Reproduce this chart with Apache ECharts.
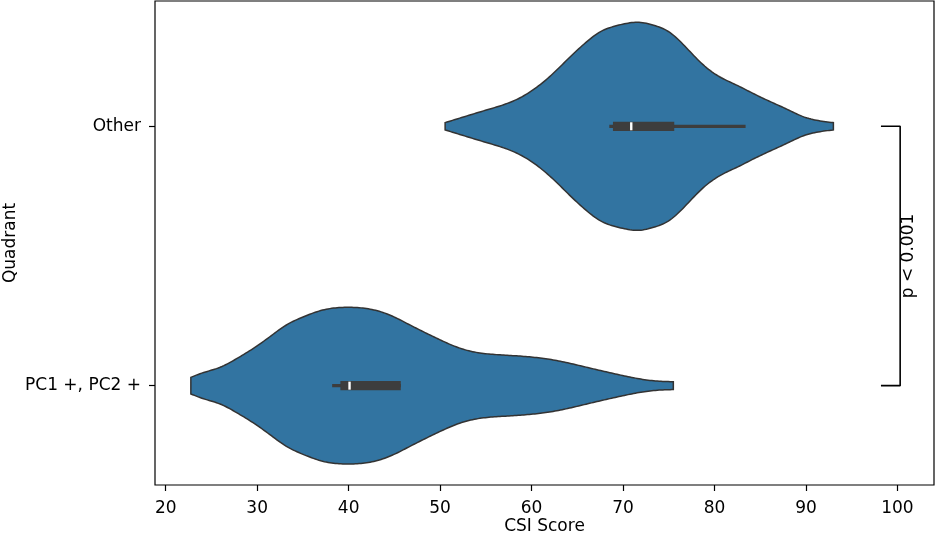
<!DOCTYPE html>
<html lang="en">
<head>
<meta charset="UTF-8">
<title>CSI Score by Quadrant</title>
<script src="https://cdn.jsdelivr.net/npm/echarts@6/dist/echarts.min.js"></script>
<style>
  html, body { margin: 0; padding: 0; background: #fff; }
  #chart { width: 936px; height: 535px; }
</style>
</head>
<body>
<div id="chart"></div>
<script>
// y positions: index 0 at the bottom, 1 at the top
var quadrants = ['PC1 +, PC2 +', 'Other'];
var xTicks = [20, 30, 40, 50, 60, 70, 80, 90, 100];

// violin outlines, score and half width (category units)
var otherScores = [50.55, 52.2, 55.1, 58.7, 62.4, 64.2, 66.0, 67.5, 68.9, 70.3, 71.7, 73.3, 75.1, 77.0, 78.8, 80.6, 82.4, 84.2, 86.1, 87.9, 89.7, 91.5, 93.0];
var otherWidths = [0.014, 0.032, 0.063, 0.109, 0.205, 0.267, 0.325, 0.364, 0.384, 0.396, 0.401, 0.390, 0.362, 0.300, 0.236, 0.190, 0.159, 0.127, 0.095, 0.066, 0.037, 0.021, 0.014];
var pc1Scores = [22.75, 24.1, 25.96, 27.8, 29.6, 31.4, 33.2, 35.1, 36.9, 39.8, 43.1, 44.9, 46.7, 48.5, 50.4, 52.2, 54.0, 56.9, 58.7, 62.4, 66.0, 69.7, 73.3, 75.5];
var pc1Widths = [0.032, 0.05, 0.071, 0.105, 0.144, 0.189, 0.234, 0.266, 0.289, 0.302, 0.289, 0.266, 0.234, 0.202, 0.170, 0.144, 0.128, 0.118, 0.114, 0.099, 0.071, 0.041, 0.019, 0.015];

// inner box: whisker low, q1, median, q3, whisker high
var pc1Box = [38.2, 39.1, 40.1, 45.7, 45.7];
var otherBox = [68.5, 68.9, 70.9, 75.6, 83.4];

var pText = 'p < 0.001';
var bracketX = [98.2, 100.3];

var font = 'DejaVu Sans';
var blue = '#3274a1';
var dark = '#3d3d3d';

var dom = document.getElementById('chart');
var myChart = echarts.init(dom);

// natural cubic spline through the read outline, only to draw it smooth
function spline(xs, ys) {
    var n = xs.length, h = [], m = new Array(n).fill(0);
    for (var i = 0; i < n - 1; i++) h.push(xs[i + 1] - xs[i]);
    var a = [], b = [], c = [], d = [];
    for (var i = 1; i < n - 1; i++) {
        a.push(h[i - 1]);
        b.push(2 * (h[i - 1] + h[i]));
        c.push(h[i]);
        d.push(6 * ((ys[i + 1] - ys[i]) / h[i] - (ys[i] - ys[i - 1]) / h[i - 1]));
    }
    var k = b.length;
    for (var i = 1; i < k; i++) {
        var w = a[i] / b[i - 1];
        b[i] -= w * c[i - 1];
        d[i] -= w * d[i - 1];
    }
    for (var i = k - 1; i >= 0; i--) {
        m[i + 1] = (d[i] - (i < k - 1 ? c[i] * m[i + 2] : 0)) / b[i];
    }
    return function (x) {
        var j = 0;
        while (j < n - 2 && x > xs[j + 1]) j++;
        var t1 = xs[j + 1] - x, t0 = x - xs[j], hj = h[j];
        return m[j] * t1 * t1 * t1 / (6 * hj) + m[j + 1] * t0 * t0 * t0 / (6 * hj)
            + (ys[j] / hj - m[j] * hj / 6) * t1 + (ys[j + 1] / hj - m[j + 1] * hj / 6) * t0;
    };
}

function violinItem(params, api) {
    var k = params.dataIndex;
    var scores = k === 0 ? pc1Scores : otherScores;
    var widths = k === 0 ? pc1Widths : otherWidths;
    var f = spline(scores, widths);
    var x0 = scores[0], x1 = scores[scores.length - 1];
    var up = [], down = [];
    for (var x = x0; x < x1; x += 0.2) {
        var w = Math.max(f(x), 0.008);
        up.push(api.coord([x, k + w]));
        down.push(api.coord([x, k - w]));
    }
    var wl = widths[widths.length - 1];
    up.push(api.coord([x1, k + wl]));
    down.push(api.coord([x1, k - wl]));
    return {
        type: 'polygon',
        shape: { points: up.concat(down.reverse()) },
        style: { fill: blue, stroke: '#333', lineWidth: 1.5 }
    };
}

function boxItem(params, api) {
    var k = params.dataIndex;
    var b = k === 0 ? pc1Box : otherBox;
    var lo = api.coord([b[0], k]);
    var q1 = api.coord([b[1], k]);
    var md = api.coord([b[2], k]);
    var q3 = api.coord([b[3], k]);
    var hi = api.coord([b[4], k]);
    return {
        type: 'group',
        children: [
            { type: 'rect', shape: { x: lo[0], y: lo[1] - 1.6, width: hi[0] - lo[0], height: 3.2 }, style: { fill: dark } },
            { type: 'rect', shape: { x: q1[0], y: q1[1] - 4.6, width: q3[0] - q1[0], height: 9.2 }, style: { fill: dark } },
            { type: 'rect', shape: { x: md[0] - 1.2, y: md[1] - 4, width: 2.4, height: 8 }, style: { fill: '#fff' } }
        ]
    };
}

var option = {
    animation: false,
    grid: {
        left: 155, right: 2, top: 1, bottom: 50,
        outerBoundsMode: 'none',
        show: true, borderColor: '#000', borderWidth: 1.2
    },
    xAxis: {
        type: 'value',
        min: 18.83,
        max: 104,
        name: 'CSI Score',
        nameLocation: 'middle',
        nameGap: 33,
        nameMoveOverlap: false,
        nameTextStyle: { color: '#000', fontFamily: font, fontSize: 17 },
        axisLine: { show: false, onZero: false },
        splitLine: { show: false },
        axisTick: { customValues: xTicks, length: 6, lineStyle: { color: '#000', width: 1.2 } },
        axisLabel: { customValues: xTicks, margin: 15, color: '#000', fontFamily: font, fontSize: 17 }
    },
    yAxis: {
        type: 'value',
        min: -0.383,
        max: 1.483,
        name: 'Quadrant',
        nameLocation: 'middle',
        nameRotate: 90,
        nameGap: 136,
        nameMoveOverlap: false,
        nameTextStyle: { color: '#000', fontFamily: font, fontSize: 17 },
        axisLine: { show: false, onZero: false },
        splitLine: { show: false },
        axisTick: { customValues: [0, 1], length: 6, lineStyle: { color: '#000', width: 1.2 } },
        axisLabel: {
            customValues: [0, 1],
            margin: 14,
            color: '#000',
            fontFamily: font,
            fontSize: 17,
            formatter: function (v) { return quadrants[Math.round(v)]; }
        }
    },
    series: [
        { type: 'custom', renderItem: violinItem, data: [[0], [1]], silent: true },
        { type: 'custom', renderItem: boxItem, data: [[0], [1]], silent: true },
        {
            type: 'line',
            data: [[bracketX[0], 1], [bracketX[1], 1], [bracketX[1], 0], [bracketX[0], 0]],
            symbol: 'none',
            lineStyle: { color: '#000', width: 1.6 },
            silent: true
        },
        {
            type: 'custom',
            silent: true,
            data: [[101.25, 0.5]],
            renderItem: function (params, api) {
                var p = api.coord([api.value(0), api.value(1)]);
                return {
                    type: 'text',
                    x: p[0],
                    y: p[1],
                    rotation: Math.PI / 2,
                    style: { text: pText, fill: '#000', font: '17px "DejaVu Sans"', align: 'center', verticalAlign: 'middle' }
                };
            }
        }
    ]
};

myChart.setOption(option);
</script>
</body>
</html>
